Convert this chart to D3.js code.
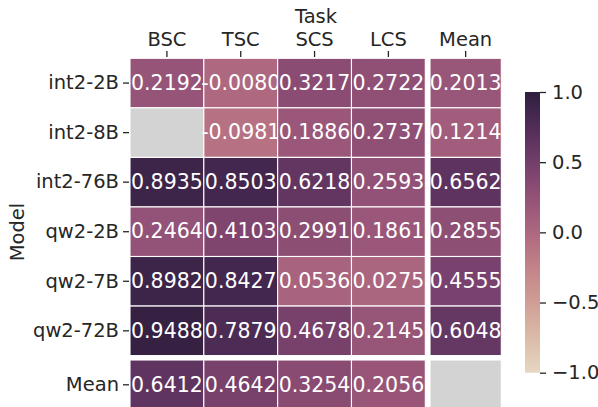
<!DOCTYPE html>
<html>
<head>
<meta charset="utf-8">
<script src="https://cdn.jsdelivr.net/npm/d3@7"></script>
<style>
  body { margin: 0; background: #fff; }
  text { font-family: "DejaVu Sans", sans-serif; }
</style>
</head>
<body>
<div id="chart"></div>
<script>
// data
const models = ['int2-2B', 'int2-8B', 'int2-76B', 'qw2-2B', 'qw2-7B', 'qw2-72B'];
const tasks = ['BSC', 'TSC', 'SCS', 'LCS'];
const scores = [
  [0.2192, -0.0080, 0.3217, 0.2722],
  [null, -0.0981, 0.1886, 0.2737],
  [0.8935, 0.8503, 0.6218, 0.2593],
  [0.2464, 0.4103, 0.2991, 0.1861],
  [0.8982, 0.8427, 0.0536, 0.0275],
  [0.9488, 0.7879, 0.4678, 0.2145]
];
const modelMeans = [0.2013, 0.1214, 0.6562, 0.2855, 0.4555, 0.6048];
const taskMeans = [0.6412, 0.4642, 0.3254, 0.2056];
const cbarTicks = [1.0, 0.5, 0.0, -0.5, -1.0];

const W = 598, H = 407;
const ink = '#262626';
const fs = '19.5px';
const annotFs = '20.5px';

// matplotlib cubehelix, as seaborn cubehelix_palette uses it
function helix(x, start, rot, gamma, hue) {
  const xg = Math.pow(x, gamma);
  const a = hue * xg * (1 - xg) / 2;
  const phi = 2 * Math.PI * (start / 3 + rot * x);
  const c = Math.cos(phi), s = Math.sin(phi);
  const cl = v => Math.max(0, Math.min(1, v));
  const r = cl(xg + a * (-0.14861 * c + 1.78277 * s));
  const g = cl(xg + a * (-0.29227 * c - 0.90649 * s));
  const b = cl(xg + a * (1.97294 * c));
  return d3.rgb(r * 255, g * 255, b * 255).formatHex();
}
const toX = d3.scaleLinear().domain([-1, 1]).range([0.85, 0.15]);
const color = v => v == null ? '#d3d3d3' : helix(toX(v), 0, 0.5, 1, 0.8);

const svg = d3.select('#chart').append('svg')
  .attr('width', W)
  .attr('height', H);

const x = d3.scaleBand().domain(tasks).range([130, 425.3]);
const xm = d3.scaleBand().domain(['Mean']).range([430, 501.3]);
const y = d3.scaleBand().domain(models).range([58.3, 355.6]);
const ym = d3.scaleBand().domain(['Mean']).range([360, 409.6]);

function cells(g, data, xs, ys) {
  const sel = g.selectAll('g.cell').data(data).enter().append('g').attr('class', 'cell');
  sel.append('rect')
    .attr('x', d => xs(d.c))
    .attr('y', d => ys(d.r))
    .attr('width', xs.bandwidth())
    .attr('height', ys.bandwidth())
    .attr('fill', d => color(d.v))
    .attr('stroke', '#fff')
    .attr('stroke-width', 1.1);
  sel.filter(d => d.v != null).append('text')
    .attr('x', d => xs(d.c) + xs.bandwidth() / 2)
    .attr('y', d => ys(d.r) + ys.bandwidth() / 2)
    .attr('dy', '0.33em')
    .attr('text-anchor', 'middle')
    .attr('fill', '#fff')
    .style('font-size', annotFs)
    .text(d => d.v.toFixed(4));
}

const mainData = [];
models.forEach((m, i) => tasks.forEach((t, j) => mainData.push({ r: m, c: t, v: scores[i][j] })));
cells(svg.append('g'), mainData, x, y);
cells(svg.append('g'), models.map((m, i) => ({ r: m, c: 'Mean', v: modelMeans[i] })), xm, y);
cells(svg.append('g'), tasks.map((t, j) => ({ r: 'Mean', c: t, v: taskMeans[j] })), x, ym);
cells(svg.append('g'), [{ r: 'Mean', c: 'Mean', v: null }], xm, ym);

// axes
function style(g) {
  g.select('.domain').remove();
  g.selectAll('.tick line').attr('stroke', ink).attr('stroke-width', 1.3);
  g.selectAll('.tick text').attr('fill', ink).style('font-size', fs).style('font-family', '"DejaVu Sans", sans-serif');
}
svg.append('g').attr('transform', 'translate(0,57)')
  .call(d3.axisTop(x).tickSize(6).tickPadding(5)).call(style);
svg.append('g').attr('transform', 'translate(0,57)')
  .call(d3.axisTop(xm).tickSize(6).tickPadding(5)).call(style);
svg.append('g').attr('transform', 'translate(129,0)')
  .call(d3.axisLeft(y).tickSize(6).tickPadding(4)).call(style);
svg.append('g').attr('transform', 'translate(129,0)')
  .call(d3.axisLeft(ym).tickSize(6).tickPadding(4)).call(style);

svg.append('text')
  .attr('x', 316).attr('y', 23)
  .attr('text-anchor', 'middle')
  .attr('fill', ink).style('font-size', fs)
  .text('Task');
svg.append('text')
  .attr('transform', 'translate(24,232) rotate(-90)')
  .attr('text-anchor', 'middle')
  .attr('fill', ink).style('font-size', fs)
  .text('Model');

// colorbar
const cb = d3.scaleLinear().domain([-1, 1]).range([372.7, 92]);
const grad = svg.append('defs').append('linearGradient')
  .attr('id', 'cbg').attr('x1', 0).attr('y1', 1).attr('x2', 0).attr('y2', 0);
d3.range(0, 1.0001, 0.05).forEach(t => {
  grad.append('stop').attr('offset', t).attr('stop-color', color(-1 + 2 * t));
});
svg.append('rect')
  .attr('x', 525).attr('y', cb(1))
  .attr('width', 15).attr('height', cb(-1) - cb(1))
  .attr('fill', 'url(#cbg)');
svg.append('g').attr('transform', 'translate(540,0)')
  .call(d3.axisRight(cb).tickValues(cbarTicks).tickSize(6).tickPadding(6)
    .tickFormat(d => d3.format('.1f')(d).replace('-', '\u2212')))
  .call(style);
</script>
</body>
</html>
